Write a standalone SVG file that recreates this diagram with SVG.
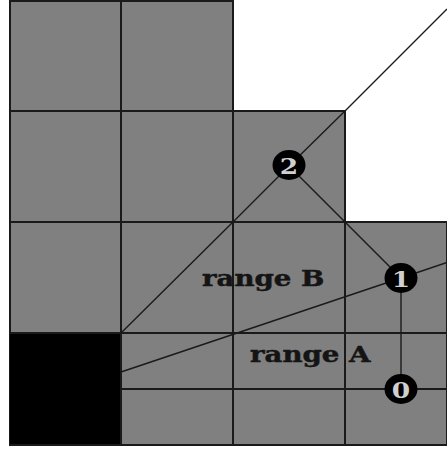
<svg xmlns="http://www.w3.org/2000/svg" width="447" height="450" viewBox="0 0 447 450">
  <style>
    .grid { stroke: #1a1a1a; stroke-width: 2; fill: none; }
    .conn { stroke: #1a1a1a; stroke-width: 1.4; fill: none; }
    .node { fill: #000; }
    .digit { font-family: "DejaVu Serif", "Liberation Serif", serif; font-weight: bold; font-size: 23px; fill: #d0d0d0; text-anchor: middle; }
    .label { font-family: "DejaVu Serif", "Liberation Serif", serif; font-weight: bold; font-size: 23px; fill: #141414; stroke: #141414; stroke-width: 0.5; }
  </style>
  <rect width="447" height="450" fill="#fff"/>
  <g id="board">
    <polygon points="10,1 233,1 233,111 345,111 345,222 447,222 447,445 10,445" fill="#808080" stroke="#1a1a1a" stroke-width="2"/>
    <rect x="10" y="333" width="111" height="112" fill="#000"/>
    <path class="grid" d="M121,1V445 M233,1V445 M345,111V445 M10,111H345 M10,222H447 M10,333H447 M121,389H447 M10,445H447"/>
  </g>
  <g id="connectors">
    <polyline class="conn" points="121,333 233,222 289,166 345,111 447,9"/>
    <polyline class="conn" points="289,166 345,222 401,278"/>
    <polyline class="conn" points="121,372 401,278 447,262.5"/>
    <line class="conn" x1="401" y1="278" x2="401" y2="389"/>
  </g>
  <g id="node2">
    <ellipse class="node" cx="289" cy="165" rx="16.5" ry="15"/>
    <text class="digit" transform="translate(289,173.5) scale(1.15,1)">2</text>
  </g>
  <g id="node1">
    <ellipse class="node" cx="401" cy="278" rx="16.5" ry="15"/>
    <text class="digit" transform="translate(401,286.5) scale(1.15,1)">1</text>
  </g>
  <g id="node0">
    <ellipse class="node" cx="401" cy="389" rx="16.5" ry="15"/>
    <text class="digit" transform="translate(401,397.5) scale(1.15,1)">0</text>
  </g>
  <g id="label-range-b">
    <text class="label" transform="translate(202,286) scale(1.2,1)">range B</text>
  </g>
  <g id="label-range-a">
    <text class="label" transform="translate(250,362) scale(1.2,1)">range A</text>
  </g>
</svg>
